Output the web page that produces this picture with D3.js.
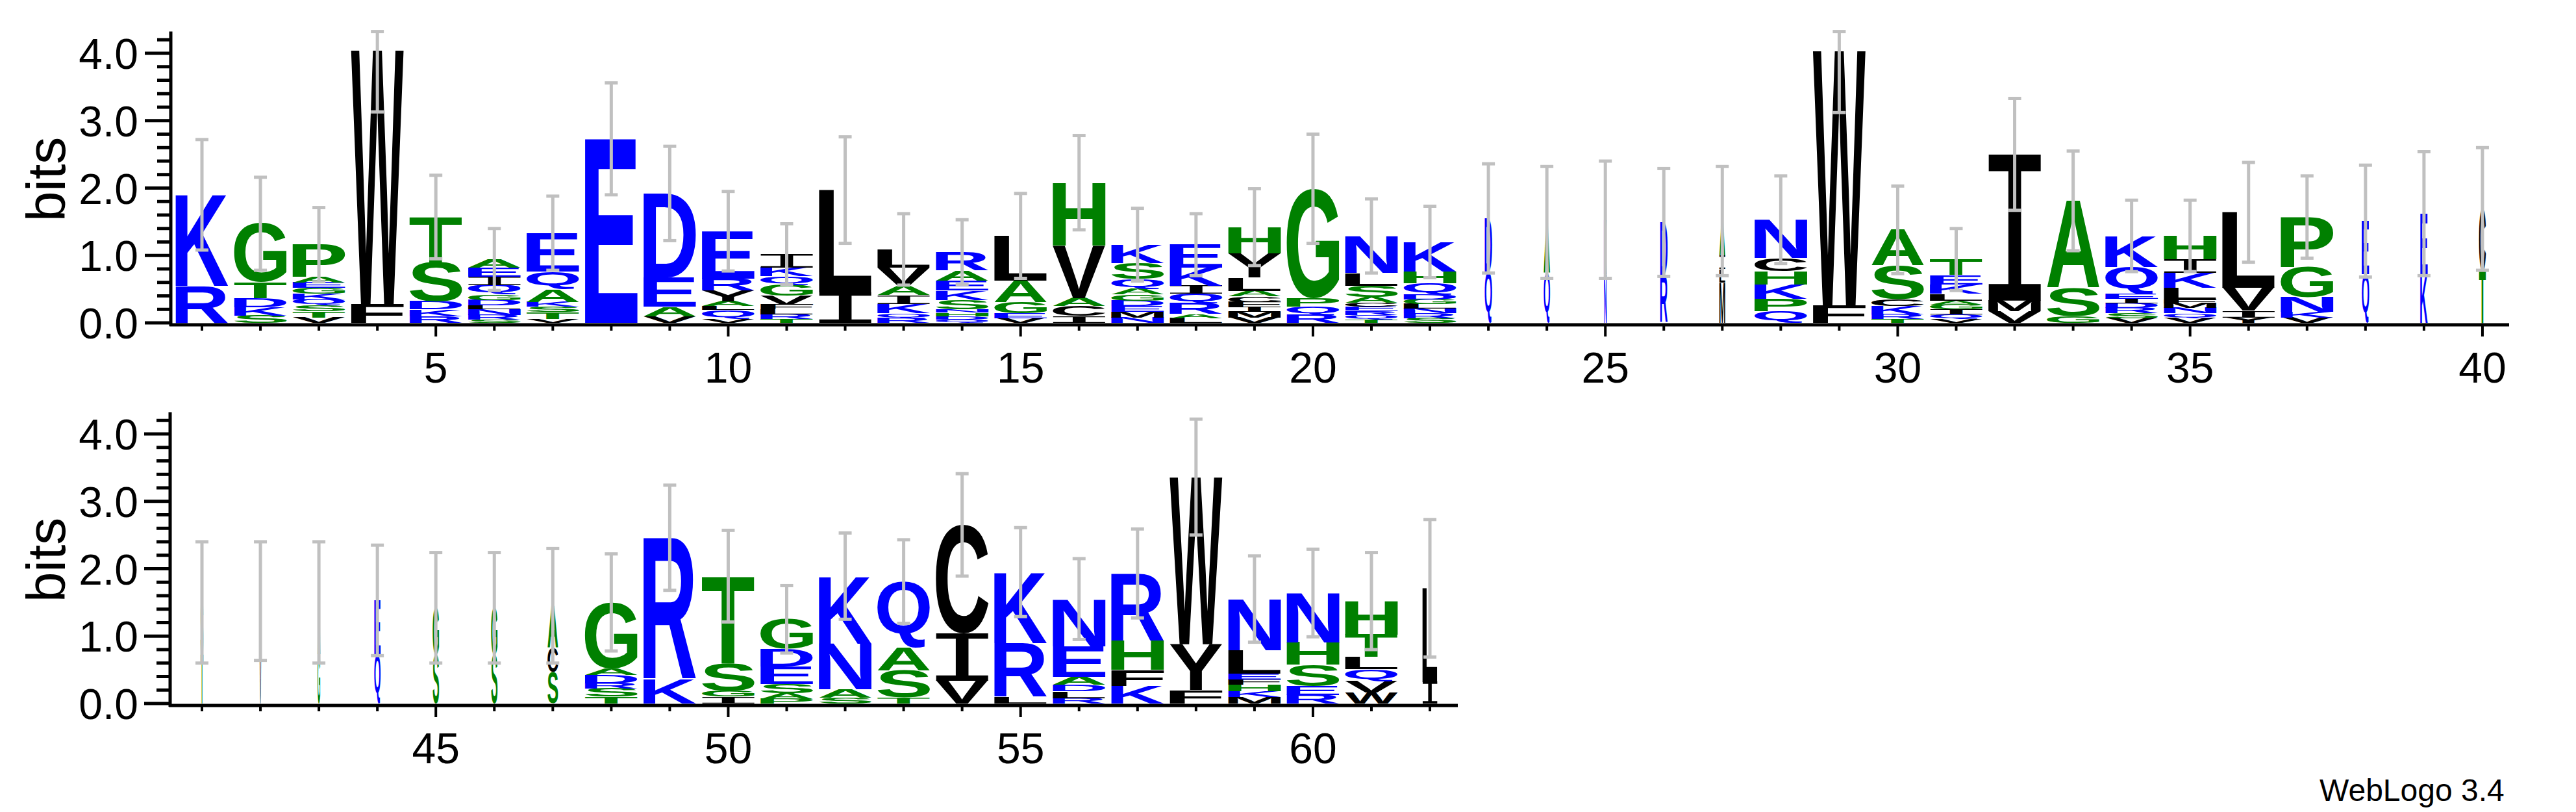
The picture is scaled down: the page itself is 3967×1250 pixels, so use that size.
<!DOCTYPE html>
<html>
<head>
<meta charset="utf-8">
<script src="https://cdn.jsdelivr.net/npm/d3@7"></script>
<style>
  body { margin: 0; background: #fff; }
  svg { display: block; }
</style>
</head>
<body>
<svg id="logo" width="3967" height="1250"></svg>
<script>
// stacks, bottom to top, letter:bits
let stacks = [
  "R:0.55,K:1.35",
  "S:0.11,K:0.12,D:0.14,T:0.23,G:0.87",
  "V:0.08,T:0.09,S:0.09,Q:0.09,K:0.08,G:0.09,E:0.08,A:0.08,P:0.48",
  "F:0.28,W:3.77",
  "R:0.10,K:0.10,D:0.12,S:0.58,T:0.67",
  "S:0.05,R:0.07,N:0.08,L:0.06,D:0.08,G:0.08,Q:0.14,I:0.12,E:0.14,A:0.12",
  "V:0.06,T:0.10,S:0.08,K:0.07,A:0.19,Q:0.26,E:0.57",
  "E:2.73",
  "V:0.10,A:0.14,E:0.43,D:1.25",
  "V:0.06,Q:0.13,L:0.06,A:0.07,Y:0.16,R:0.18,E:0.70",
  "T:0.06,R:0.07,L:0.07,F:0.07,V:0.13,G:0.16,Q:0.13,K:0.13,I:0.20",
  "I:0.45,L:1.52",
  "R:0.07,Q:0.07,K:0.14,I:0.13,A:0.14,V:0.27,L:0.27",
  "Q:0.05,D:0.05,H:0.05,N:0.05,S:0.14,K:0.14,E:0.15,A:0.15,R:0.27",
  "V:0.07,E:0.07,G:0.17,A:0.32,L:0.66",
  "I:0.10,C:0.15,A:0.12,V:0.78,H:0.93",
  "N:0.08,M:0.08,E:0.09,D:0.08,G:0.09,A:0.08,Q:0.15,S:0.24,K:0.27",
  "L:0.07,A:0.06,R:0.16,Q:0.14,I:0.12,K:0.27,E:0.34",
  "V:0.08,M:0.08,I:0.08,F:0.07,C:0.08,A:0.08,L:0.20,Y:0.36,H:0.39",
  "R:0.12,Q:0.12,P:0.12,G:1.63",
  "T:0.05,Q:0.07,R:0.06,E:0.06,C:0.06,A:0.08,S:0.17,L:0.19,N:0.55",
  "S:0.07,R:0.07,N:0.07,L:0.07,G:0.07,D:0.07,Q:0.17,H:0.17,K:0.44",
  "Q:0.75,D:0.80",
  "Q:0.74,A:0.75",
  "N:0.72,K:0.81",
  "R:0.71,D:0.78",
  "M:0.60,L:0.20,I:0.20,A:0.51",
  "Q:0.17,P:0.19,K:0.21,H:0.20,C:0.19,N:0.57",
  "F:0.26,W:3.78",
  "T:0.06,R:0.07,K:0.12,C:0.10,S:0.50,A:0.53",
  "V:0.06,Q:0.07,I:0.07,G:0.07,A:0.06,L:0.10,K:0.14,E:0.14,T:0.23",
  "V:0.17,M:0.16,I:2.17",
  "G:0.10,S:0.42,A:1.29",
  "V:0.07,S:0.07,R:0.08,D:0.07,I:0.07,E:0.07,Q:0.40,K:0.46",
  "V:0.07,Q:0.07,N:0.08,M:0.07,F:0.06,L:0.17,K:0.22,I:0.20,H:0.35",
  "Y:0.08,I:0.10,V:0.34,L:1.12",
  "V:0.08,K:0.08,N:0.22,G:0.45,P:0.74",
  "Q:0.72,E:0.79",
  "K:0.72,E:0.90",
  "T:0.77,C:0.92",
  "T:0.73,S:0.77",
  "V:0.74,L:0.78",
  "G:0.73,A:0.77",
  "Q:0.73,E:0.80",
  "S:0.72,G:0.70",
  "S:0.72,G:0.70",
  "S:0.47,C:0.36,A:0.62",
  "T:0.10,S:0.12,R:0.08,D:0.12,A:0.10,G:0.98",
  "K:0.36,R:2.10",
  "I:0.10,G:0.09,S:0.41,T:1.29",
  "P:0.07,A:0.08,S:0.14,E:0.26,D:0.26,G:0.44",
  "S:0.09,A:0.12,N:0.68,K:1.00",
  "T:0.09,S:0.40,A:0.34,Q:0.98",
  "V:0.34,I:0.70,C:1.61",
  "L:0.10,R:0.80,K:1.05",
  "R:0.08,L:0.10,D:0.10,A:0.12,E:0.45,N:0.70",
  "K:0.26,F:0.24,H:0.43,R:1.00",
  "F:0.20,Y:0.68,W:2.48",
  "M:0.10,K:0.08,H:0.10,F:0.08,E:0.08,L:0.35,N:0.76",
  "R:0.13,E:0.13,S:0.32,H:0.33,N:0.73",
  "W:0.16,V:0.17,Q:0.18,L:0.18,T:0.33,H:0.50",
  "I:0.32,L:1.39"
];
// error bar half-heights (bits)
let errors = [0.82,0.69,0.55,0.92,0.62,0.46,0.55,0.83,0.70,0.59,0.45,0.79,0.53,0.48,0.63,0.70,0.54,0.46,0.57,0.81,
  0.55,0.53,0.81,0.83,0.87,0.80,0.81,0.65,0.92,0.65,0.46,0.83,0.74,0.53,0.53,0.74,0.61,0.83,0.92,0.91,
  0.90,0.88,0.90,0.82,0.82,0.82,0.85,0.72,0.78,0.68,0.50,0.64,0.62,0.76,0.66,0.60,0.66,0.86,0.64,0.65,0.72,1.02];
// relative stack width (fraction of sequences without gap)
let widths = [1,1,1,1,1,1,1,1,1,1,1,1,1,1,1,1,1,1,1,1,
  1,1,0.14,0.12,0.05,0.14,0.11,1,1,1,1,1,1,1,1,1,1,0.14,0.14,0.13,
  0.05,0.03,0.05,0.12,0.12,0.12,0.2,1,1,1,1,1,1,1,1,1,1,1,1,1,1,0.28];
let yTicks = [0, 1, 2, 3, 4];
let xTicksTop = [5, 10, 15, 20, 25, 30, 35, 40];
let xTicksBottom = [45, 50, 55, 60];

let colorOf = {};
"GSTAPH".split("").forEach(c => colorOf[c] = "#008000");
"KRDEQN".split("").forEach(c => colorOf[c] = "#0000ff");
"WFLVYCIM".split("").forEach(c => colorOf[c] = "#000000");

const svg = d3.select("#logo");
const maxBits = Math.log2(20);
const step = 90.05, x0 = 311;
const panels = [
  {first: 1, last: 40, base: 497, axisX: 263, xEnd: 3864, ticks: xTicksTop},
  {first: 41, last: 62, base: 1083, axisX: 262, xEnd: 2245, ticks: xTicksBottom}
];

// glyph ink metrics from canvas
const ctx = document.createElement("canvas").getContext("2d");
const FS = 200;
function fontFor(c){ return c === "I" ? "DejaVu Sans Mono" : "Liberation Sans"; }
function weightFor(c){ return c === "I" ? "normal" : "bold"; }
let metrics = {};
function inkOf(c){
  if(!metrics[c]){
    ctx.font = weightFor(c) + " " + FS + "px '" + fontFor(c) + "'";
    let m = ctx.measureText(c);
    metrics[c] = {l: m.actualBoundingBoxLeft, r: m.actualBoundingBoxRight,
                  a: m.actualBoundingBoxAscent, d: m.actualBoundingBoxDescent};
  }
  return metrics[c];
}

panels.forEach(function(p){
  const g = svg.append("g");
  const y = d3.scaleLinear().domain([0, maxBits]).range([p.base, p.base - maxBits * 103.75]);
  const x = d3.scaleLinear().domain([p.first, p.last]).range([x0, x0 + (p.last - p.first) * step]);

  // letters
  for(let pos = p.first; pos <= p.last; pos++){
    let items = stacks[pos - 1].split(",").map(s => { let t = s.split(":"); return {c: t[0], h: +t[1]}; });
    let w = step * 0.9 * widths[pos - 1];
    let cum = 0;
    items.forEach(function(it){
      let yb = y(cum), yt = y(cum + it.h);
      cum += it.h;
      let m = inkOf(it.c);
      let sx = w / (m.l + m.r), sy = (yb - yt) / (m.a + m.d);
      g.append("text")
        .attr("font-family", fontFor(it.c))
        .attr("font-weight", weightFor(it.c))
        .attr("font-size", FS)
        .attr("fill", colorOf[it.c])
        .attr("transform", `translate(${x(pos) - w / 2},${yt}) scale(${sx},${sy}) translate(${m.l},${m.a})`)
        .text(it.c);
    });
    // error bar
    let e = errors[pos - 1];
    let lo = y(cum - e), hi = y(Math.min(cum + e, maxBits));
    let eb = g.append("g").attr("stroke", "#c0c0c0").attr("stroke-width", 5);
    eb.append("line").attr("x1", x(pos)).attr("x2", x(pos)).attr("y1", lo).attr("y2", hi);
    eb.append("line").attr("x1", x(pos) - 10).attr("x2", x(pos) + 10).attr("y1", lo).attr("y2", lo);
    eb.append("line").attr("x1", x(pos) - 10).attr("x2", x(pos) + 10).attr("y1", hi).attr("y2", hi);
  }

  // x axis
  g.append("line").attr("x1", p.axisX - 2).attr("x2", p.xEnd).attr("y1", p.base + 3).attr("y2", p.base + 3)
    .attr("stroke", "#000").attr("stroke-width", 5);
  for(let pos = p.first; pos <= p.last; pos++){
    let major = p.ticks.indexOf(pos) >= 0;
    g.append("line").attr("x1", x(pos)).attr("x2", x(pos))
      .attr("y1", p.base + 3).attr("y2", p.base + (major ? 21 : 12))
      .attr("stroke", "#000").attr("stroke-width", 4);
  }
  g.selectAll(".xl").data(p.ticks).enter().append("text")
    .attr("x", d => x(d)).attr("y", p.base + 92)
    .attr("text-anchor", "middle")
    .attr("font-family", "Liberation Sans").attr("font-size", 66)
    .text(d => d);

  // y axis
  g.append("line").attr("x1", p.axisX).attr("x2", p.axisX).attr("y1", p.base + 5).attr("y2", y(maxBits))
    .attr("stroke", "#000").attr("stroke-width", 5);
  d3.range(0, 22).forEach(function(i){
    let v = i * 0.2, major = i % 5 === 0;
    g.append("line").attr("x1", p.axisX - (major ? 40 : 21)).attr("x2", p.axisX)
      .attr("y1", y(v)).attr("y2", y(v))
      .attr("stroke", "#000").attr("stroke-width", 5);
  });
  g.selectAll(".yl").data(yTicks).enter().append("text")
    .attr("x", 213).attr("y", d => y(d) + 24)
    .attr("text-anchor", "end")
    .attr("font-family", "Liberation Sans").attr("font-size", 66)
    .text(d => d.toFixed(1));
  g.append("text")
    .attr("transform", `translate(100,${p.base - 221}) rotate(-90)`)
    .attr("text-anchor", "middle")
    .attr("font-family", "Liberation Sans").attr("font-size", 84)
    .text("bits");
});

svg.append("text").attr("x", 3572).attr("y", 1233)
  .attr("font-family", "Liberation Sans").attr("font-size", 48)
  .text("WebLogo 3.4");
</script>
</body>
</html>
